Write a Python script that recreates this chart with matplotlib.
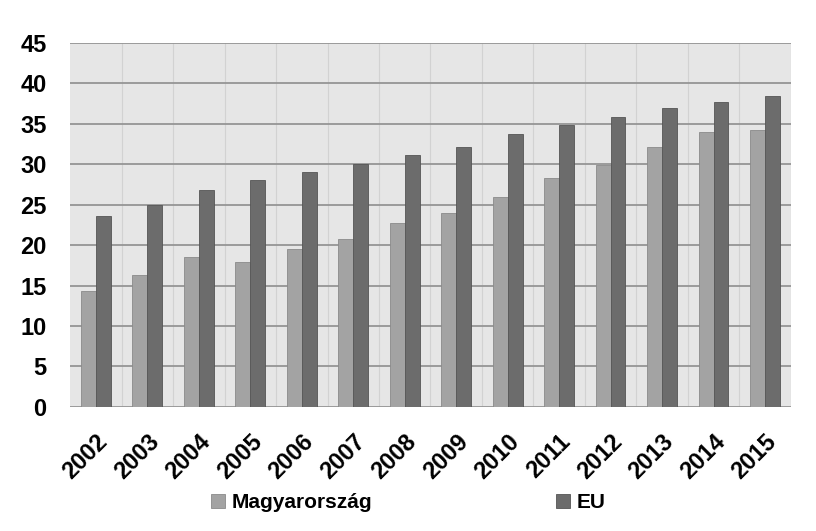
import matplotlib
matplotlib.use("Agg")
import matplotlib.pyplot as plt
import numpy as np

years = ['2002', '2003', '2004', '2005', '2006', '2007', '2008',
         '2009', '2010', '2011', '2012', '2013', '2014', '2015']
magyarorszag = [14.3, 16.3, 18.5, 17.9, 19.5, 20.7, 22.7,
                24.0, 26.0, 28.3, 29.9, 32.1, 34.0, 34.2]
eu = [23.6, 24.9, 26.8, 28.0, 29.0, 30.0, 31.1,
      32.1, 33.7, 34.8, 35.8, 36.9, 37.7, 38.5]

plt.rcParams['font.family'] = ['Liberation Sans', 'DejaVu Sans']

fig = plt.figure(figsize=(8.16, 5.31), dpi=100)
ax = fig.add_axes([0.086, 0.234, 0.883, 0.685])
ax.set_facecolor('#e6e6e6')

x = np.arange(len(years))
w = 0.29
ax.bar(x - w / 2, magyarorszag, w, color='#a3a3a3', edgecolor='#8a8a8a',
       linewidth=0.6, label='Magyarország', zorder=3)
ax.bar(x + w / 2, eu, w, color='#6c6c6c', edgecolor='#555555',
       linewidth=0.6, label='EU', zorder=3)

ax.set_xlim(-0.5, len(years) - 0.5)
ax.set_ylim(0, 45)
ax.set_yticks(range(0, 46, 5))
ax.grid(axis='y', color='#959595', linewidth=1.3, zorder=1)
ax.set_xticks(x + 0.5, minor=True)
ax.grid(axis='x', which='minor', color='#d2d2d2', linewidth=0.8, zorder=1)

ax.set_xticks(x)
ax.set_xticklabels(years, rotation=45, ha='right', rotation_mode='anchor',
                   fontsize=17, fontweight='bold')
for lbl in ax.get_yticklabels():
    lbl.set_fontsize(17)
    lbl.set_fontweight('bold')
ax.tick_params(axis='both', which='both', length=0)
ax.tick_params(axis='y', pad=17)
ax.tick_params(axis='x', pad=17)
for s in ax.spines.values():
    s.set_visible(False)

fig.legend(loc='center', bbox_to_anchor=(0.5, 0.053), ncol=2,
           frameon=False, prop={'size': 15, 'weight': 'bold'},
           columnspacing=8.8, handlelength=0.7, handleheight=0.7,
           handletextpad=0.3)

fig.savefig('out.png', dpi=100, facecolor='white')
